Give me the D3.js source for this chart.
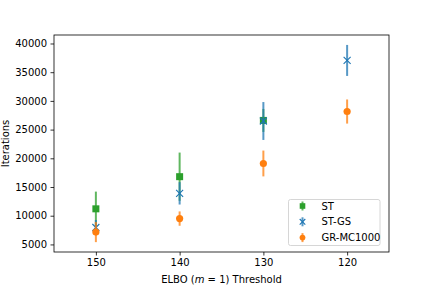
<!DOCTYPE html>
<html><head><meta charset="utf-8">
<script src="https://cdn.jsdelivr.net/npm/d3@7"></script>
<style>body{margin:0;background:#fff}svg{display:block;font-family:"DejaVu Sans",sans-serif}</style>
</head><body><svg id="c" width="432" height="288"></svg>
<script>
const thresholds = [150, 140, 130, 120];
const stVals = [11200, 16800, 26600, null];
const stErr = [3000, 4200, 2000, null];
const stgsVals = [7950, 13900, 26500, 37050];
const stgsErr = [1300, 1950, 3300, 2700];
const grVals = [7150, 9500, 19100, 28150];
const grErr = [1750, 1250, 2250, 2100];
const yTicks = [5000, 10000, 15000, 20000, 25000, 30000, 35000, 40000];
const xTicks = [150, 140, 130, 120];
const seriesNames = ["ST", "ST-GS", "GR-MC1000"];
const colors = ["#2ca02c", "#1f77b4", "#ff7f0e"];
const shapes = ["square", "x", "circle"];

const svg = d3.select("#c");
const L = 54, R = 389, T = 35, B = 252;
const x = d3.scaleLinear().domain([155, 115]).range([L, R]);
const y = d3.scaleLinear().domain([3680, 41480]).range([B, T]);

const series = [
  {vals: stVals, err: stErr},
  {vals: stgsVals, err: stgsErr},
  {vals: grVals, err: grErr}
];

function drawMarker(g, shape, color, cx, cy, s) {
  s = s || 3.5;
  if (shape === "square") {
    g.append("rect").attr("x", cx - s).attr("y", cy - s).attr("width", 2 * s).attr("height", 2 * s).attr("fill", color);
  } else if (shape === "circle") {
    g.append("circle").attr("cx", cx).attr("cy", cy).attr("r", s + 0.1).attr("fill", color);
  } else {
    g.append("path").attr("d", `M${cx-s},${cy-s}L${cx+s},${cy+s}M${cx-s},${cy+s}L${cx+s},${cy-s}`)
      .attr("stroke", color).attr("stroke-width", 1.1).attr("fill", "none");
  }
}

const plot = svg.append("g");
series.forEach((s, i) => {
  const g = plot.append("g");
  thresholds.forEach((t, j) => {
    if (s.vals[j] == null) return;
    g.append("line").attr("x1", x(t)).attr("x2", x(t))
      .attr("y1", y(s.vals[j] - s.err[j])).attr("y2", y(s.vals[j] + s.err[j]))
      .attr("stroke", colors[i]).attr("stroke-width", 2).attr("opacity", 0.75);
    drawMarker(g, shapes[i], colors[i], x(t), y(s.vals[j]));
  });
});

// axes
const xAxis = d3.axisBottom(x).tickValues(xTicks).tickSize(3.5).tickPadding(3.5).tickFormat(d3.format("d"));
const yAxis = d3.axisLeft(y).tickValues(yTicks).tickSize(3.5).tickPadding(3.5).tickFormat(d3.format("d"));
const gx = svg.append("g").attr("transform", `translate(0,${B})`).call(xAxis);
const gy = svg.append("g").attr("transform", `translate(${L},0)`).call(yAxis);
[gx, gy].forEach(g => {
  g.select(".domain").remove();
  g.selectAll("text").attr("font-size", 10).attr("fill", "#000").attr("font-family", "DejaVu Sans");
  g.selectAll("line").attr("stroke", "#000").attr("stroke-width", 0.8);
});
svg.append("rect").attr("x", L).attr("y", T).attr("width", R - L).attr("height", B - T)
  .attr("fill", "none").attr("stroke", "#000").attr("stroke-width", 0.8);

// labels
const xl = svg.append("text").attr("x", (L + R) / 2).attr("y", 283).attr("text-anchor", "middle").attr("font-size", 10);
xl.append("tspan").text("ELBO (");
xl.append("tspan").attr("font-style", "italic").text("m");
xl.append("tspan").text(" = 1) Threshold");
svg.append("text").attr("transform", `translate(9,${(T + B) / 2}) rotate(-90)`).attr("text-anchor", "middle")
  .attr("font-size", 10).text("Iterations");

// legend
const lg = svg.append("g");
lg.append("rect").attr("x", 288.5).attr("y", 199.5).attr("width", 91.5).attr("height", 46).attr("rx", 2)
  .attr("fill", "#fff").attr("fill-opacity", 0.8).attr("stroke", "#ccc").attr("stroke-width", 0.8);
seriesNames.forEach((n, i) => {
  const cy = 206 + i * 15.8;
  const mx = 302.5;
  lg.append("line").attr("x1", mx).attr("x2", mx).attr("y1", cy - 4.5).attr("y2", cy + 4.5)
    .attr("stroke", colors[i]).attr("stroke-width", 2).attr("opacity", 0.75);
  drawMarker(lg, shapes[i], colors[i], mx, cy, 2.8);
  lg.append("text").attr("x", 321.5).attr("y", cy + 3.5).attr("font-size", 10).text(n);
});
</script></body></html>
